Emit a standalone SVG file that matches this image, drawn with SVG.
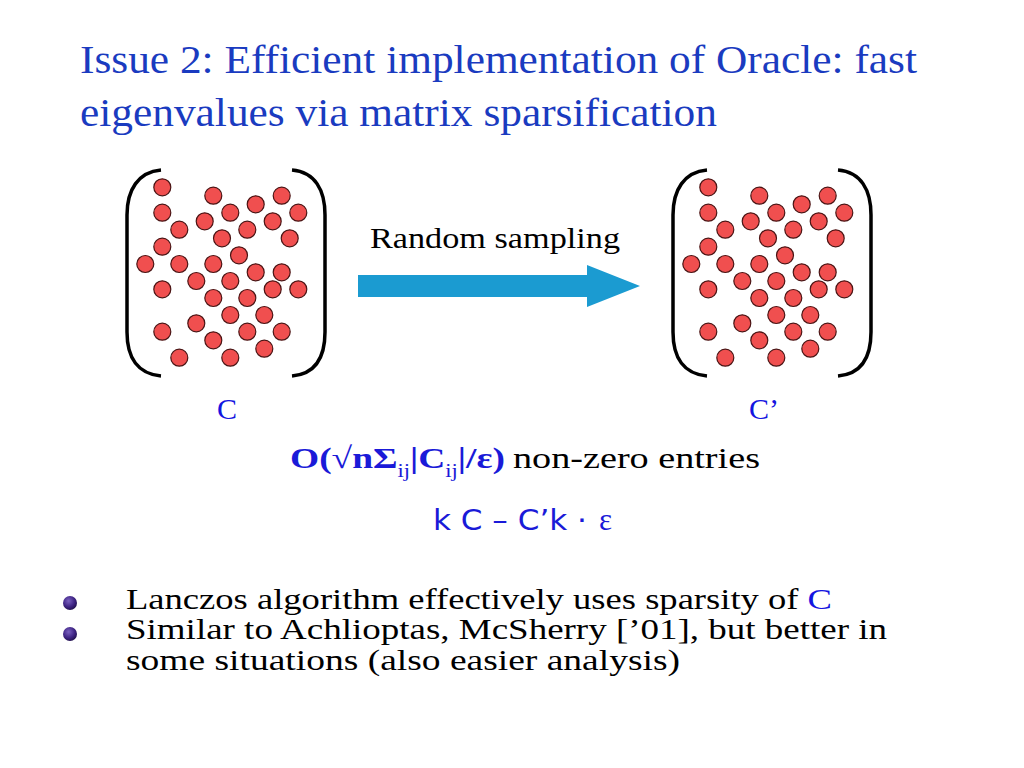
<svg xmlns="http://www.w3.org/2000/svg" xmlns:xlink="http://www.w3.org/1999/xlink" width="1024" height="768" viewBox="0 0 1024 768">
<style>
.title{font-family:"Liberation Serif","DejaVu Serif",serif;font-size:41px;fill:#1a3bc0}
.body{font-family:"Liberation Serif","DejaVu Serif",serif;font-size:30px;fill:#000}
.bul{font-family:"Liberation Serif","DejaVu Serif",serif;font-size:29px;fill:#000}
.blue{fill:#1414e0}
.lbl{font-family:"Liberation Serif",serif;font-size:30px;fill:#1414e0}
.formula{font-family:"Liberation Serif",serif;font-weight:bold;fill:#1a1ad8}
.sans{font-family:"DejaVu Sans","Liberation Sans",sans-serif;fill:#1a1ad8}
.dot{fill:#f04f4f;stroke:#4a1414;stroke-width:1.2}
.br{fill:none;stroke:#000;stroke-width:3.5}
</style>
<defs>
<radialGradient id="sph" cx="0.4" cy="0.35" r="0.7">
<stop offset="0" stop-color="#7a60c0"/>
<stop offset="0.6" stop-color="#3f2585"/>
<stop offset="1" stop-color="#1e0e48"/>
</radialGradient>
<g id="dots">
<circle class="dot" cx="162.3" cy="187.3" r="8.5"/>
<circle class="dot" cx="213.3" cy="195.7" r="8.5"/>
<circle class="dot" cx="255.7" cy="204.3" r="8.5"/>
<circle class="dot" cx="281.7" cy="195.7" r="8.5"/>
<circle class="dot" cx="162.3" cy="212.7" r="8.5"/>
<circle class="dot" cx="230.3" cy="212.7" r="8.5"/>
<circle class="dot" cx="298.3" cy="212.7" r="8.5"/>
<circle class="dot" cx="204.7" cy="221.3" r="8.5"/>
<circle class="dot" cx="272.7" cy="221.3" r="8.5"/>
<circle class="dot" cx="179.3" cy="229.7" r="8.5"/>
<circle class="dot" cx="247.3" cy="229.7" r="8.5"/>
<circle class="dot" cx="222" cy="238.3" r="8.5"/>
<circle class="dot" cx="289.7" cy="238.3" r="8.5"/>
<circle class="dot" cx="162.3" cy="246.7" r="8.5"/>
<circle class="dot" cx="239" cy="255.3" r="8.5"/>
<circle class="dot" cx="145.3" cy="264" r="8.5"/>
<circle class="dot" cx="179.3" cy="264" r="8.5"/>
<circle class="dot" cx="213.3" cy="264" r="8.5"/>
<circle class="dot" cx="255.7" cy="272.3" r="8.5"/>
<circle class="dot" cx="281.7" cy="272.3" r="8.5"/>
<circle class="dot" cx="196.3" cy="281" r="8.5"/>
<circle class="dot" cx="230.3" cy="281" r="8.5"/>
<circle class="dot" cx="162.3" cy="289.3" r="8.5"/>
<circle class="dot" cx="272.7" cy="289.3" r="8.5"/>
<circle class="dot" cx="298.3" cy="289.3" r="8.5"/>
<circle class="dot" cx="213.3" cy="298" r="8.5"/>
<circle class="dot" cx="247.3" cy="298" r="8.5"/>
<circle class="dot" cx="230.3" cy="315" r="8.5"/>
<circle class="dot" cx="264.3" cy="315" r="8.5"/>
<circle class="dot" cx="196.3" cy="323.3" r="8.5"/>
<circle class="dot" cx="162.3" cy="331.7" r="8.5"/>
<circle class="dot" cx="247.3" cy="331.7" r="8.5"/>
<circle class="dot" cx="281.7" cy="331.7" r="8.5"/>
<circle class="dot" cx="213.3" cy="340.3" r="8.5"/>
<circle class="dot" cx="264.3" cy="348.7" r="8.5"/>
<circle class="dot" cx="179.3" cy="357.7" r="8.5"/>
<circle class="dot" cx="230.3" cy="357.7" r="8.5"/>
<path class="br" d="M161,170 C138,172 127,190 127,215 L127,332 C127,358 138,374 161,376"/>
<path class="br" d="M292,170 C315,172 325,190 325,215 L325,332 C325,358 315,374 292,376"/>
</g>
</defs>
<rect width="1024" height="768" fill="#fff"/>
<g id="title">
<text class="title" x="80" y="73" textLength="837" lengthAdjust="spacingAndGlyphs">Issue 2: Efficient implementation of Oracle: fast</text>
<text class="title" x="80" y="126" textLength="637" lengthAdjust="spacingAndGlyphs">eigenvalues via matrix sparsification</text>
</g>
<g id="matrix-C">
<use xlink:href="#dots"/>
<text class="lbl" x="227" y="419" text-anchor="middle">C</text>
</g>
<g id="matrix-C-prime">
<use xlink:href="#dots" transform="translate(546,0)"/>
<text class="lbl" x="764" y="419" text-anchor="middle">C’</text>
</g>
<g id="connectors">
<path d="M358,275 L587,275 L587,265 L640,286 L587,307 L587,297 L358,297 Z" fill="#1b9bd1"/>
<text class="body" x="370" y="248" style="font-size:29px" textLength="250" lengthAdjust="spacingAndGlyphs">Random sampling</text>
</g>
<g id="formulas">
<text class="formula" x="290" y="468" style="font-size:30px" textLength="215" lengthAdjust="spacingAndGlyphs">O(√nΣ<tspan style="font-size:18px;font-weight:normal" dy="9">ij</tspan><tspan dy="-9">|C</tspan><tspan style="font-size:18px;font-weight:normal" dy="9">ij</tspan><tspan dy="-9">|/ε)</tspan></text>
<text class="body" x="513" y="468" textLength="247" lengthAdjust="spacingAndGlyphs">non-zero entries</text>
<text class="sans" x="433" y="530" style="font-size:29px" textLength="154" lengthAdjust="spacingAndGlyphs">k C – C’k · </text>
<text class="formula" x="599" y="530" style="font-size:31px;font-weight:normal">ε</text>
</g>
<g id="bullets">
<circle cx="70" cy="603" r="7" fill="url(#sph)"/>
<circle cx="70" cy="634" r="7" fill="url(#sph)"/>
<text class="bul" x="126" y="609" textLength="706" lengthAdjust="spacingAndGlyphs">Lanczos algorithm effectively uses sparsity of <tspan class="blue">C</tspan></text>
<text class="bul" x="126" y="639" textLength="761" lengthAdjust="spacingAndGlyphs">Similar to Achlioptas, McSherry [’01], but better in</text>
<text class="bul" x="126" y="670" textLength="554" lengthAdjust="spacingAndGlyphs">some situations (also easier analysis)</text>
</g>
</svg>
